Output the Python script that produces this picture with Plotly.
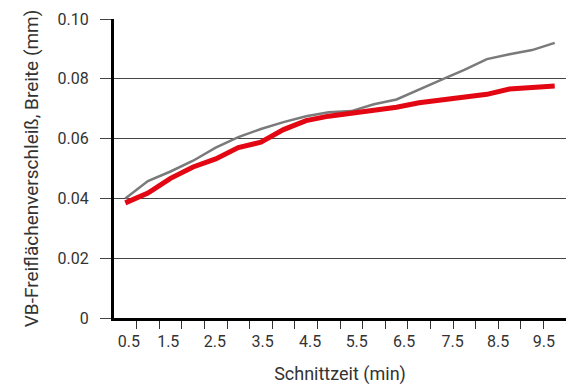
import plotly.graph_objects as go

x_vals = [0.5, 1.0, 1.5, 2.0, 2.5, 3.0, 3.5, 4.0, 4.5, 5.0,
          5.5, 6.0, 6.5, 7.0, 7.5, 8.0, 8.5, 9.0, 9.5, 10.0]
grey_series = [0.0400, 0.0458, 0.0490, 0.0526, 0.0570, 0.0605, 0.0632, 0.0655, 0.0675, 0.0688,
               0.0692, 0.0715, 0.0731, 0.0765, 0.0797, 0.0830, 0.0866, 0.0882, 0.0896, 0.0920]
red_series = [0.0385, 0.0418, 0.0467, 0.0505, 0.0532, 0.0570, 0.0588, 0.0630, 0.0660, 0.0675,
              0.0685, 0.0693, 0.0705, 0.0720, 0.0728, 0.0737, 0.0748, 0.0766, 0.0772, 0.0776]
x_tick_text = ["0.5", "1.5", "2.5", "3.5", "4.5", "5.5", "6.5", "7.5", "8.5", "9.5"]
y_tick_vals = [0, 0.02, 0.04, 0.06, 0.08, 0.10]
y_tick_text = ["0", "0.02", "0.04", "0.06", "0.08", "0.10"]

# layout: where the original graphic places its x labels and tick marks
x_label_pos = [0.58, 1.45, 2.48, 3.54, 4.59, 5.62, 6.67, 7.74, 8.75, 9.76]
x_minor_ticks = [0.75 + 0.5 * i for i in range(19)]

FONT = "Roboto, 'DejaVu Sans', sans-serif"

fig = go.Figure()
fig.add_trace(go.Scatter(x=x_vals, y=grey_series, mode="lines",
                         line=dict(color="#7a7a7a", width=2.5), showlegend=False))
fig.add_trace(go.Scatter(x=x_vals, y=red_series, mode="lines",
                         line=dict(color="#e30613", width=5), showlegend=False))

fig.update_layout(
    width=566, height=385,
    margin=dict(l=114, r=0, t=19, b=67),
    paper_bgcolor="white", plot_bgcolor="white",
    font=dict(family=FONT, color="#333333", size=16),
    xaxis=dict(
        range=[0.25, 10.25], tickmode="array", tickvals=x_label_pos, ticktext=x_tick_text,
        ticks="", showgrid=False, zeroline=False,
        showline=True, linecolor="black", linewidth=3,
        ticklabelstandoff=7,
        minor=dict(tickmode="array", tickvals=x_minor_ticks, ticks="outside",
                   ticklen=8, tickcolor="#333333", tickwidth=1, showgrid=False),
        title=dict(text="Schnittzeit (min)", font=dict(size=18), standoff=18),
        tickfont=dict(size=16),
        automargin=False,
    ),
    yaxis=dict(
        range=[0, 0.10], tickmode="array", tickvals=y_tick_vals, ticktext=y_tick_text,
        ticks="outside", ticklen=11, tickcolor="#444444", tickwidth=1,
        showgrid=True, gridcolor="#444444", gridwidth=1, zeroline=False,
        showline=True, linecolor="black", linewidth=3,
        ticklabelstandoff=8,
        title=dict(text="VB-Freiflächenverschleiß, Breite (mm)", font=dict(size=19), standoff=14),
        tickfont=dict(size=16),
        automargin=False,
    ),
)

fig.write_html("out.html", config={"displayModeBar": False},
               post_script="document.body.style.margin='0';")
